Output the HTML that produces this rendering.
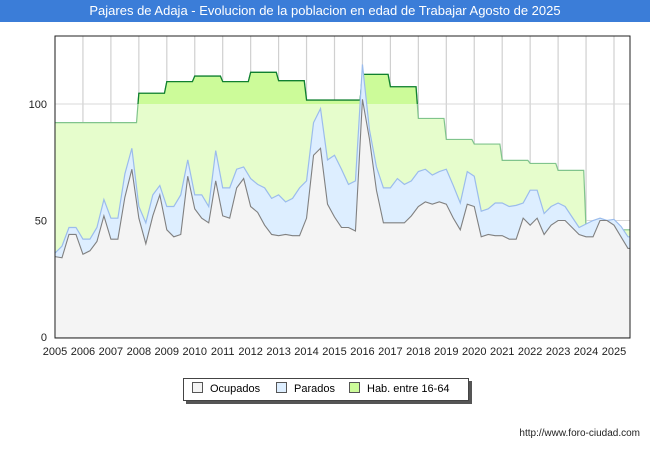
<!DOCTYPE html>
<html><head><meta charset="utf-8">
<style>
body{margin:0;width:650px;height:450px;background:#fff;font-family:"Liberation Sans",sans-serif;overflow:hidden}
#title{position:absolute;left:0;top:0;width:650px;height:22px;background:#3b7dd8;color:#fff;font-size:13px;line-height:22px;text-align:center}
</style></head><body>
<div id="title">Pajares de Adaja - Evolucion de la poblacion en edad de Trabajar Agosto de 2025</div>
<svg id="chart" width="650" height="450" style="position:absolute;left:0;top:0"></svg>
<script>
const years=[2005,2006,2007,2008,2009,2010,2011,2012,2013,2014,2015,2016,2017,2018,2019,2020,2021,2022,2023,2024,2025];
const habValues=[92,92,92,104.6,109.6,112,109.6,113.6,110,101.7,101.7,112.7,107.4,93.8,84.8,82.8,75.8,74.5,71.5,46,46];
const ocupados=[34.5,34,44,44, 35.5,37,41,52, 42,42,60,72, 51,40,52,61, 46,43,44,69, 55,51,49,67, 52,51,64,68, 56,53.5,48,44, 43.5,44,43.5,43.5, 51,78,81,57, 51.5,47,47,45.5, 102,85,63,49, 49,49,49,52, 56,58,57,58, 57,51,46,57, 56,43,44,43.5, 43.5,42,42,51, 48,51,44,48, 50,50,47,44, 43,43,50,50, 48,43,38];
const parados=[1.5,5,3,3, 6.5,5,6,7, 9,9,10,9, 5,9,9,4, 10,13,17,7, 6,10,7,13, 12,13,8,5, 12,12,16,15.5, 17.5,14,16,20.5, 16,14,17,19, 26.5,25,18.5,21.5, 15,4,10,15, 15,19,16.5,15, 15,14,12.5,13, 15,14,11.5,14, 13,11,11,14, 14,14,14.5,6.5, 15,12,9,8, 7.5,6,4.5,3, 5.5,7,1,0, 2.5,4.5,5];
const yTicks=[0,50,100];
const NS='http://www.w3.org/2000/svg';
const svg=document.getElementById('chart');
const X0=55,X1=630,Y0=337,YT=36,END=2025.58;
const xs=t=>X0+(t-2005)*27.95;
const ys=v=>Y0-v*2.33;
function mk(tag,attrs,parent){const e=document.createElementNS(NS,tag);for(const k in attrs)e.setAttribute(k,attrs[k]);(parent||svg).appendChild(e);return e;}
mk('rect',{x:X0,y:YT,width:X1-X0,height:Y0-YT+1,fill:'#fff'});
// grid
years.forEach(y=>{const g=mk('line',{x1:xs(y),x2:xs(y),y1:YT,y2:Y0,stroke:'#d0d0d0','stroke-width':1.2});

});
yTicks.forEach(v=>{const g=mk('line',{x1:X0,x2:X1,y1:ys(v),y2:ys(v),stroke:'#d8d8d8','stroke-width':1});

});
// hab points
const hp=[];
habValues.forEach((v,i)=>{const y=years[i];hp.push([y,v]);hp.push([Math.min(y+11/12,END),v]);});
const hpts=hp.map(p=>[xs(p[0]),ys(p[1])]);
function area(pts){return 'M'+pts[0][0]+','+Y0+' '+pts.map(p=>'L'+p[0]+','+p[1]).join(' ')+' L'+pts[pts.length-1][0]+','+Y0+'Z';}
function line(pts){return 'M'+pts.map(p=>p[0]+','+p[1]).join(' L');}
mk('clipPath',{id:'above'});
mk('rect',{x:X0,y:YT,width:X1-X0,height:ys(100)-YT},document.getElementById('above'));
let e=mk('path',{d:area(hpts),fill:'#e6fdcc'});


e=mk('path',{d:line(hpts),fill:'none',stroke:'#80c48c','stroke-width':1.2});


const g2=mk('g',{'clip-path':'url(#above)'});
mk('path',{d:area(hpts),fill:'#ccfb99'},g2);
mk('path',{d:line(hpts),fill:'none',stroke:'#108030','stroke-width':1.3},g2);
// monthly-ish series
const tp=ocupados.map((v,i)=>2005+i*0.25);
const totPts=tp.map((t,i)=>[xs(t),ys(ocupados[i]+parados[i])]);
totPts.push([xs(END),totPts[totPts.length-1][1]]);
const ocPts=tp.map((t,i)=>[xs(t),ys(ocupados[i])]);
ocPts.push([xs(END),ocPts[ocPts.length-1][1]]);
e=mk('path',{d:area(totPts),fill:'#ddeeff'});


e=mk('path',{d:line(totPts),fill:'none',stroke:'#9bbcec','stroke-width':1.2});


e=mk('path',{d:area(ocPts),fill:'#f4f4f4'});


e=mk('path',{d:line(ocPts),fill:'none',stroke:'#808080','stroke-width':1.1});


// frame
mk('rect',{x:X0,y:YT,width:X1-X0,height:Y0-YT+1,fill:'none',stroke:'#222','stroke-width':1});
// labels
yTicks.forEach(v=>{const t=mk('text',{x:47,y:ys(v)+4,'text-anchor':'end','font-size':11,fill:'#222'});t.textContent=v;

});
years.forEach(y=>{const t=mk('text',{x:xs(y),y:355,'text-anchor':'middle','font-size':11,fill:'#222'});t.textContent=y;

});
</script>
<div style="position:absolute;left:183px;top:378px;width:284px;height:21px;border:1px solid #444;background:#fff;box-shadow:3px 3px 0 #555;font-size:11px;line-height:21px">
<span style="position:absolute;left:8px"><span style="display:inline-block;width:9px;height:9px;background:#f4f4f4;border:1px solid #555;vertical-align:-1px;margin-right:7px"></span>Ocupados</span>
<span style="position:absolute;left:92px"><span style="display:inline-block;width:9px;height:9px;background:#ddeeff;border:1px solid #555;vertical-align:-1px;margin-right:7px"></span>Parados</span>
<span style="position:absolute;left:165px"><span style="display:inline-block;width:9px;height:9px;background:#ccfb99;border:1px solid #555;vertical-align:-1px;margin-right:7px"></span>Hab. entre 16-64</span>
</div>
<div style="position:absolute;right:10px;top:428px;font-size:10px;color:#222">http://www.foro-ciudad.com</div>
</body></html>
